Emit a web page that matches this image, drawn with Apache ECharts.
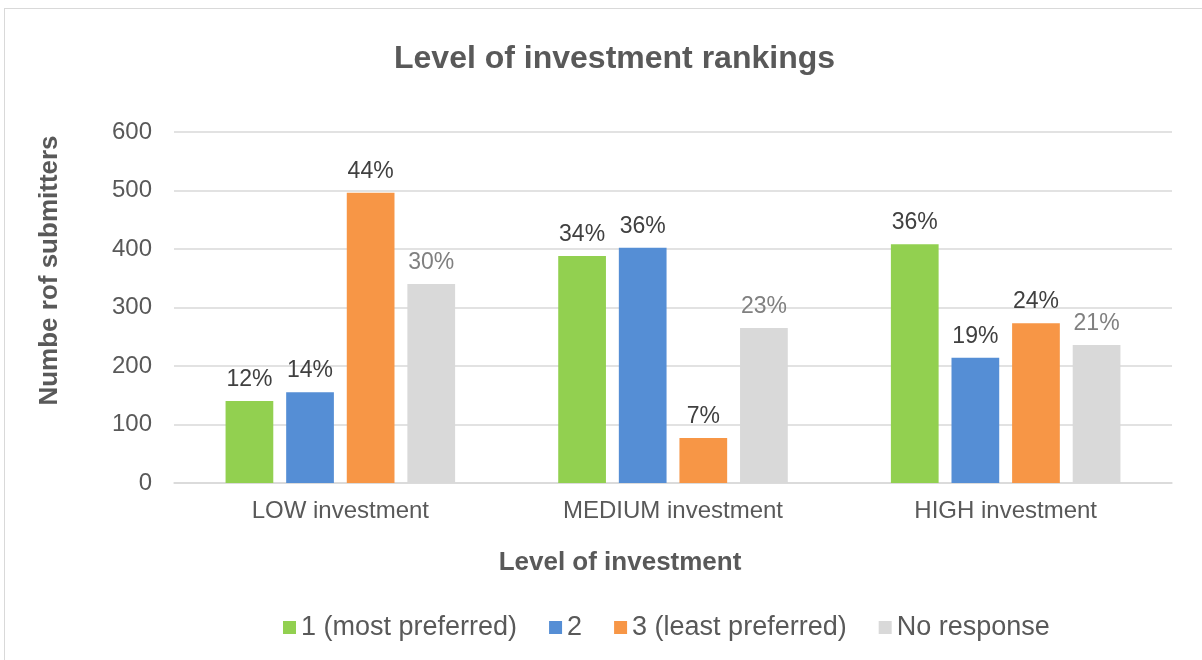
<!DOCTYPE html>
<html>
<head>
<meta charset="utf-8">
<script src="https://cdn.jsdelivr.net/npm/echarts@6/dist/echarts.min.js"></script>
<style>
  html, body { margin: 0; padding: 0; background: #fff; }
  #frame { position: absolute; left: 4px; top: 8px; width: 1210px; height: 660px; border: 1px solid #d9d9d9; box-sizing: border-box; }
  #chart { position: absolute; left: 0; top: 0; width: 1202px; height: 660px; }
</style>
</head>
<body>
<div id="frame"></div>
<div id="chart"></div>
<script>
// categories and series
var categories = ['LOW investment', 'MEDIUM investment', 'HIGH investment'];
var seriesNames = ['1 (most preferred)', '2', '3 (least preferred)', 'No response'];
var mostPreferred = [140, 388, 408];
var second = [155, 402, 214];
var leastPreferred = [496, 77, 273];
var noResponse = [340, 265, 236];
// percentage labels shown above bars
var mostPct = ['12%', '34%', '36%'];
var secondPct = ['14%', '36%', '19%'];
var leastPct = ['44%', '7%', '24%'];
var noRespPct = ['30%', '23%', '21%'];

var colors = ['#92d050', '#558ed5', '#f79646', '#d9d9d9'];
var labelColors = ['#404040', '#404040', '#404040', '#808080'];
var values = [mostPreferred, second, leastPreferred, noResponse];
var pcts = [mostPct, secondPct, leastPct, noRespPct];

var chart = echarts.init(document.getElementById('chart'));

var series = seriesNames.map(function (name, i) {
    return {
        name: name,
        type: 'bar',
        data: values[i],
        barGap: '27%',
        barCategoryGap: '31%',
        itemStyle: { color: colors[i] },
        label: {
            show: true,
            position: 'top',
            distance: 10,
            fontSize: 23,
            color: labelColors[i],
            formatter: function (p) { return pcts[i][p.dataIndex]; }
        }
    };
});

chart.setOption({
    animation: false,
    textStyle: { fontFamily: 'Arial, Liberation Sans, sans-serif' },
    title: {
        text: 'Level of investment rankings',
        left: 389,
        top: 38,
        textStyle: { fontSize: 32, fontWeight: 'bold', color: '#595959', fontFamily: 'Arial, Liberation Sans, sans-serif' }
    },
    legend: {
        top: 609,
        left: 278,
        itemWidth: 13,
        itemHeight: 13,
        itemGap: 32,
        icon: 'rect',
        textStyle: { fontSize: 27, color: '#595959' },
        data: seriesNames
    },
    grid: {
        left: 174,
        right: 30,
        top: 132,
        bottom: 177
    },
    xAxis: {
        type: 'category',
        data: categories,
        name: 'Level of investment',
        nameLocation: 'middle',
        nameGap: 67,
        nameTextStyle: { fontSize: 26, fontWeight: 'bold', color: '#595959', padding: [0, 106, 0, 0] },
        axisLine: { lineStyle: { color: '#d9d9d9', width: 1.5 } },
        axisTick: { show: false },
        axisLabel: { fontSize: 24, color: '#595959', margin: 16 }
    },
    yAxis: {
        type: 'value',
        min: 0,
        max: 600,
        interval: 100,
        name: 'Numbe rof submitters',
        nameLocation: 'middle',
        nameGap: 111,
        nameTextStyle: { fontSize: 26, fontWeight: 'bold', color: '#595959', padding: [0, 0, 0, 74] },
        axisLine: { show: false },
        axisTick: { show: false },
        axisLabel: { fontSize: 24, color: '#595959', margin: 22 },
        splitLine: { lineStyle: { color: '#d9d9d9', width: 1.5 } }
    },
    series: series
});
</script>
</body>
</html>
